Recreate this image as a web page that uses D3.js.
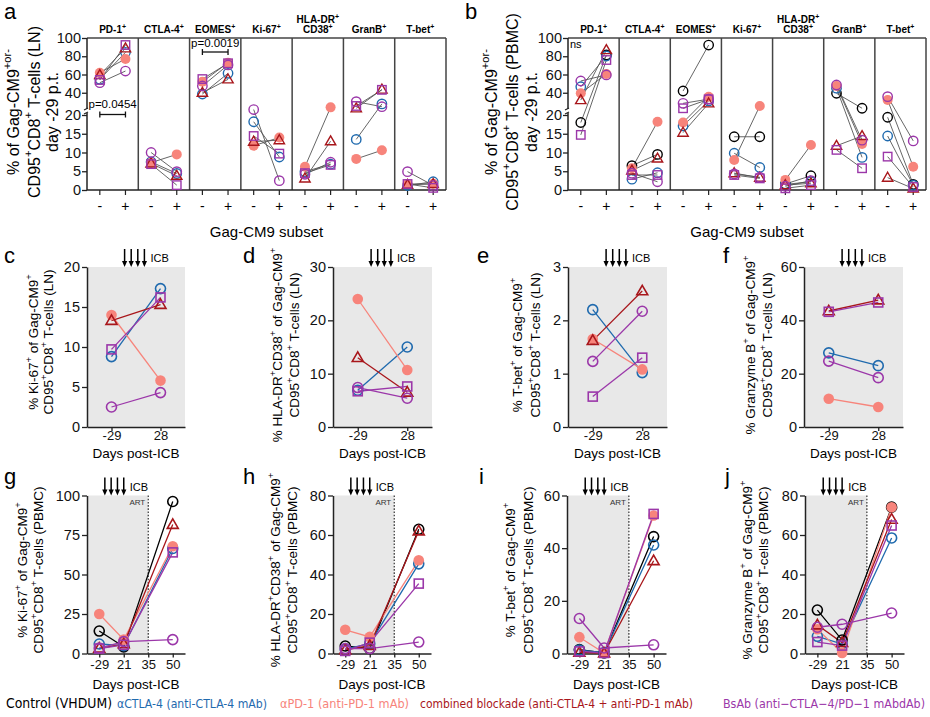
<!DOCTYPE html>
<html><head><meta charset="utf-8">
<script src="https://cdn.jsdelivr.net/npm/d3@7"></script>
<style>body{margin:0;background:#fff}svg{font-family:"Liberation Sans",Arial,sans-serif}</style>
</head><body><svg id="chart" width="930" height="717"></svg>
<script>
// ---------------- DATA ----------------
const markers = ["PD-1^{+}","CTLA-4^{+}","EOMES^{+}","Ki-67^{+}","HLA-DR^{+}|CD38^{+}","GranB^{+}","T-bet^{+}"];
const subsets = ["-","+"];
const upperTicksAB = [40,60,80,100];
const lowerTicksAB = [0,5,10,15,20];
const animalsLN = ["aCTLA4","aPD1","combo","bsabSq","bsabCi"];
const animalsPBMC = ["control","aCTLA4","aPD1","combo","bsabSq","bsabCi"];
// panel a (LN, day -29): rows = animalsLN, columns = markers
const aNeg = [
  [54.7, 7.5, 38.6, 18.2, 4.9, 13.5, 1.2],
  [62.0, 7.3, 52.0, 11.8, 6.2, 8.3, 1.6],
  [59.5, 7.1, 40.0, 12.9, 3.1, 23.0, 1.4],
  [54.0, 6.9, 55.0, 14.4, 4.5, 25.5, 1.6],
  [51.0, 10.0, 47.4, 21.6, 4.2, 30.2, 4.9]
];
const aPos = [
  [84.3, 4.4, 61.3, 8.8, 6.9, 27.8, 2.2],
  [77.0, 9.5, 73.0, 14.0, 24.0, 10.6, 1.65],
  [88.7, 3.8, 54.7, 13.3, 13.0, 43.5, 1.62],
  [92.3, 1.3, 72.3, 9.7, 6.7, 43.2, 0.57],
  [63.8, 4.9, 70.5, 2.5, 7.4, 24.7, 1.23]
];
// panel b (PBMC, day -29): rows = animalsPBMC
const bNeg = [
  [18.0, 6.5, 41.9, 14.2, 1.6, 39.4, 19.4],
  [46.6, 2.9, 17.1, 9.8, 1.5, 45.0, 14.4],
  [39.4, 5.8, 18.0, 8.0, 2.7, 47.4, 32.0],
  [32.0, 5.2, 15.3, 4.5, 1.3, 11.8, 3.3],
  [14.7, 4.0, 23.0, 4.0, 0.45, 10.7, 8.9],
  [52.9, 4.5, 28.4, 4.3, 1.0, 48.5, 35.7]
];
const bPos = [
  [81.4, 9.5, 92.3, 14.2, 3.8, 23.0, 1.5],
  [80.3, 4.6, 31.0, 6.0, 2.2, 8.7, 1.3],
  [60.5, 18.2, 35.7, 25.5, 12.0, 12.3, 6.2],
  [86.8, 8.4, 28.4, 3.3, 1.8, 14.4, 0.4],
  [75.9, 4.0, 32.8, 3.1, 1.3, 5.8, 0.8],
  [59.5, 2.2, 33.0, 3.4, 2.5, 13.3, 13.1]
];
const daysLN = ["-29","28"];
const daysPBMC = ["-29","21","35","50"];
const daysPBMCdata = ["-29","21","50"];
// panels c-f (LN): rows = animalsLN, [day -29, day 28]
const cKi67LN  = [[8.8,17.3],[14.0,5.8],[13.3,15.3],[9.7,16.2],[2.5,4.3]];
const dHLALN   = [[6.9,15.0],[24.0,10.7],[13.0,6.5],[6.7,7.6],[7.4,5.4]];
const eTbetLN  = [[2.2,1.02],[1.65,1.08],[1.62,2.55],[0.57,1.3],[1.23,2.17]];
const fGranBLN = [[27.8,23.0],[10.6,7.5],[43.5,47.6],[43.2,46.7],[24.7,18.5]];
// panels g-j (PBMC): rows = animalsPBMC, [day -29, day 21, day 50]
const gKi67PBMC  = [[14.2,4.2,96.2],[6.0,5.0,66.5],[25.0,8.8,67.9],[3.3,6.0,81.6],[3.1,5.5,64.0],[3.4,7.5,8.8]];
const hHLAPBMC   = [[3.8,2.5,62.9],[2.2,5.0,45.4],[12.0,8.4,47.2],[1.8,4.0,62.0],[1.3,5.5,35.4],[2.5,2.5,5.8]];
const iTbetPBMC  = [[1.5,0.2,44.4],[1.3,0.3,41.2],[6.2,0.2,52.4],[0.4,0.1,35.2],[0.8,0.2,53.0],[13.3,2.1,3.3]];
const jGranBPBMC = [[22.0,6.8,74.1],[8.7,4.8,58.5],[12.3,0.3,74.0],[14.4,5.5,67.9],[5.8,4.0,64.8],[13.3,14.8,20.5]];
const legendLabels = ["Control (VHDUM)","\u03b1CTLA-4 (anti-CTLA-4 mAb)","\u03b1PD-1 (anti-PD-1 mAb)","combined blockade (anti-CTLA-4 + anti-PD-1 mAb)","BsAb (anti\u2212CTLA\u22124/PD\u22121 mAbdAb)"];

// ---------------- STYLE ----------------
const COL = {black:"#000000", blue:"#1f6aae", salmon:"#f7847b", red:"#a8161b", purple:"#9b37a9"};
const ST = {
  control:{c:COL.black, s:"circle"}, aCTLA4:{c:COL.blue, s:"circle"}, aPD1:{c:COL.salmon, s:"dot"},
  combo:{c:COL.red, s:"triangle"}, bsabSq:{c:COL.purple, s:"square"}, bsabCi:{c:COL.purple, s:"circle"}
};
const legendColors = [COL.black, COL.blue, COL.salmon, COL.red, COL.purple];
const svg = d3.select("#chart");
const AX = "#222";
const fmt = d3.format("~g");

function rich(t, str, fs) {
  const parts = str.split(/(\^\{[^}]*\})/).filter(p => p.length);
  let up = false;
  parts.forEach(p => {
    if (p.startsWith("^{")) {
      t.append("tspan").attr("dy", -fs*0.38).attr("font-size", fs*0.7).text(p.slice(2,-1));
      up = true;
    } else {
      const ts = t.append("tspan").text(p);
      if (up) { ts.attr("dy", fs*0.38); up = false; }
    }
  });
}
function marker(g, key, x, y, r, sw) {
  const st = ST[key];
  if (st.s === "circle") g.append("circle").attr("cx",x).attr("cy",y).attr("r",r).attr("fill","none").attr("stroke",st.c).attr("stroke-width",sw);
  else if (st.s === "dot") g.append("circle").attr("cx",x).attr("cy",y).attr("r",r+0.3).attr("fill",st.c);
  else if (st.s === "square") g.append("rect").attr("x",x-r*0.9).attr("y",y-r*0.9).attr("width",r*1.8).attr("height",r*1.8).attr("fill","none").attr("stroke",st.c).attr("stroke-width",sw);
  else if (st.s === "triangle") {
    const h = r*1.9, w = r*2.2;
    g.append("path").attr("d",`M${x},${y-h*0.6}L${x+w/2},${y+h*0.4}L${x-w/2},${y+h*0.4}Z`).attr("fill","none").attr("stroke",st.c).attr("stroke-width",sw).attr("stroke-linejoin","miter");
  }
}
function letter(x, y, l) {
  svg.append("text").attr("x",x).attr("y",y).attr("font-size",22).text(l);
}
function rotTitle(lines, xs, yc, fs) {
  lines.forEach((ln,i) => {
    const t = svg.append("text").attr("transform",`translate(${xs[i]},${yc}) rotate(-90)`)
      .attr("text-anchor","middle").attr("dominant-baseline","central").attr("font-size",fs);
    rich(t, ln, fs);
  });
}

// ---------------- STRIP PANELS (a, b) ----------------
function strip(cfg) {
  const {x0, x1, top, bottom, neg, pos, animals} = cfg;
  const g = svg.append("g");
  const band = d3.scaleBand().domain(markers).range([x0, x1]);
  const sub = d3.scalePoint().domain(subsets).range([0, band.bandwidth()]).padding(0.5);
  const up = d3.scaleLinear().domain([20,100]).range([111, top]);
  const lo = d3.scaleLinear().domain([0,20]).range([bottom, 115]);
  const y = v => v > 20 ? up(v) : lo(v);
  // frame
  g.append("line").attr("x1",x0).attr("x2",x1).attr("y1",top).attr("y2",top).attr("stroke","#444").attr("stroke-width",1.5);
  markers.forEach((m,i) => {
    if (i>0) g.append("line").attr("x1",band(m)).attr("x2",band(m)).attr("y1",top).attr("y2",bottom).attr("stroke","#444").attr("stroke-width",1.5);
  });
  g.append("line").attr("x1",x1).attr("x2",x1).attr("y1",top).attr("y2",bottom).attr("stroke","#444").attr("stroke-width",1.5);
  g.append("line").attr("x1",x0).attr("x2",x1).attr("y1",bottom).attr("y2",bottom).attr("stroke",AX).attr("stroke-width",1.5);
  // left axis (broken)
  g.append("line").attr("x1",x0).attr("x2",x0).attr("y1",top).attr("y2",109).attr("stroke",AX).attr("stroke-width",1.5);
  g.append("line").attr("x1",x0).attr("x2",x0).attr("y1",113).attr("y2",bottom).attr("stroke",AX).attr("stroke-width",1.5);
  g.append("line").attr("x1",x0-3).attr("x2",x0+1).attr("y1",110).attr("y2",108).attr("stroke",AX).attr("stroke-width",1.2);
  g.append("line").attr("x1",x0-3).attr("x2",x0+1).attr("y1",114).attr("y2",112).attr("stroke",AX).attr("stroke-width",1.2);
  const ax1 = g.append("g").attr("transform",`translate(${x0},0)`).call(d3.axisLeft(up).tickValues(upperTicksAB).tickFormat(fmt).tickSize(5).tickSizeOuter(0));
  const ax2 = g.append("g").attr("transform",`translate(${x0},0)`).call(d3.axisLeft(lo).tickValues(lowerTicksAB).tickFormat(fmt).tickSize(5).tickSizeOuter(0));
  [ax1, ax2].forEach(a => {
    a.select(".domain").remove();
    a.selectAll("line").attr("stroke",AX).attr("stroke-width",1.3);
    a.selectAll("text").attr("font-size",14.5).attr("font-family","Liberation Sans, Arial, sans-serif").attr("fill","#111").attr("x",-6);
  });
  // headers, x labels, ticks
  markers.forEach(m => {
    const cx = band(m) + band.bandwidth()/2;
    const lines = m.split("|");
    lines.forEach((ln, i) => {
      const t = g.append("text").attr("x",cx).attr("y", top - 5 - (lines.length-1-i)*10.5).attr("text-anchor","middle")
        .attr("font-size",10).attr("font-weight","bold");
      rich(t, ln, 10);
    });
    subsets.forEach(s => {
      const xx = band(m) + sub(s);
      g.append("line").attr("x1",xx).attr("x2",xx).attr("y1",bottom).attr("y2",bottom+5).attr("stroke",AX).attr("stroke-width",1.2);
      g.append("text").attr("x",xx).attr("y",bottom+21).attr("text-anchor","middle").attr("font-size",14).text(s);
    });
  });
  g.append("text").attr("x",(x0+x1)/2).attr("y",bottom+47).attr("text-anchor","middle").attr("font-size",15).text("Gag-CM9 subset");
  // connecting lines
  animals.forEach((a, ai) => {
    markers.forEach((m, mi) => {
      g.append("line").attr("x1",band(m)+sub("-")).attr("y1",y(neg[ai][mi]))
        .attr("x2",band(m)+sub("+")).attr("y2",y(pos[ai][mi])).attr("stroke","#555").attr("stroke-width",0.9);
    });
  });
  animals.forEach((a, ai) => {
    markers.forEach((m, mi) => {
      marker(g, a, band(m)+sub("-"), y(neg[ai][mi]), 4.7, 1.4);
      marker(g, a, band(m)+sub("+"), y(pos[ai][mi]), 4.7, 1.4);
    });
  });
  return {band, sub, y};
}

const A = strip({x0:87, x1:446, top:38, bottom:190, neg:aNeg, pos:aPos, animals:animalsLN});
const B = strip({x0:568, x1:926, top:38, bottom:190, neg:bNeg, pos:bPos, animals:animalsPBMC});

// p-values
function bracket(xa, xb, yy, label, ty) {
  svg.append("line").attr("x1",xa).attr("x2",xb).attr("y1",yy).attr("y2",yy).attr("stroke","#111").attr("stroke-width",1.3);
  [xa,xb].forEach(xx => svg.append("line").attr("x1",xx).attr("x2",xx).attr("y1",yy-3).attr("y2",yy+3).attr("stroke","#111").attr("stroke-width",1.3));
  svg.append("text").attr("x",(xa+xb)/2).attr("y",ty).attr("text-anchor","middle").attr("font-size",11.5).text(label);
}
bracket(A.band(markers[0])+A.sub("-"), A.band(markers[0])+A.sub("+"), 114.5, "p=0.0454", 108);
bracket(A.band(markers[2])+A.sub("-"), A.band(markers[2])+A.sub("+"), 52, "p=0.0019", 46.5);
svg.append("text").attr("x",570).attr("y",48).attr("font-size",11).text("ns");

letter(4, 19, "a");
letter(465, 19, "b");
rotTitle(["% of Gag-CM9^{+or-}","CD95^{+}CD8^{+} T-cells (LN)","day -29 p.t."], [13, 34, 52], 112, 16);
rotTitle(["% of Gag-CM9^{+or-}","CD95^{+}CD8^{+} T-cells (PBMC)","day -29 p.t."], [491, 512, 531], 112, 16);

// ---------------- TIME PANELS (c-j) ----------------
function timePanel(cfg) {
  const {x0, x1, top, bottom, yMax, yTicks, cats, dataCats, vals, animals, art, tickY, titleY} = cfg;
  const g = svg.append("g");
  const x = d3.scalePoint().domain(cats).range([x0, x1]).padding(0.5);
  const y = d3.scaleLinear().domain([0, yMax]).range([bottom, top]);
  const grayEnd = art ? x("35") : x1;
  g.append("rect").attr("x",x0).attr("y",top).attr("width",grayEnd-x0).attr("height",bottom-top).attr("fill","#e8e8e8");
  if (art) {
    g.append("line").attr("x1",x("35")).attr("x2",x("35")).attr("y1",top).attr("y2",bottom)
      .attr("stroke","#333").attr("stroke-width",1.2).attr("stroke-dasharray","1.6,1.6");
    g.append("text").attr("x",x("35")-3).attr("y",top+9).attr("text-anchor","end").attr("font-size",8).attr("fill","#333").text("ART");
  }
  const ay = g.append("g").attr("transform",`translate(${x0},0)`).call(d3.axisLeft(y).tickValues(yTicks).tickFormat(fmt).tickSize(5).tickSizeOuter(0));
  const ax = g.append("g").attr("transform",`translate(0,${bottom})`).call(d3.axisBottom(x).tickSize(4).tickSizeOuter(0));
  [ay, ax].forEach(a => {
    a.select(".domain").attr("stroke",AX).attr("stroke-width",1.5);
    a.selectAll(".tick line").attr("stroke",AX).attr("stroke-width",1.3);
    a.selectAll("text").attr("font-family","Liberation Sans, Arial, sans-serif").attr("fill","#111");
  });
  ay.selectAll("text").attr("font-size",14.5).attr("x",-7);
  ax.selectAll("text").attr("font-size",13).attr("y",tickY);
  g.append("text").attr("x",(x0+x1)/2).attr("y",bottom+titleY).attr("text-anchor","middle").attr("font-size",13.5).text("Days post-ICB");
  // arrows (ICB)
  const arrowX = art ? d3.range(4).map(i => x("21") - (3-i)*6.3) : d3.range(4).map(i => (x0+x1)/2 - 1.5 + (i-1.5)*6.6);
  arrowX.forEach(ax0 => {
    g.append("line").attr("x1",ax0).attr("x2",ax0).attr("y1",top-18).attr("y2",top-5).attr("stroke","#000").attr("stroke-width",1.5);
    g.append("path").attr("d",`M${ax0-2.6},${top-6}L${ax0+2.6},${top-6}L${ax0},${top}Z`).attr("fill","#000");
  });
  g.append("text").attr("x",arrowX[3]+6).attr("y",top-5).attr("font-size",11).text("ICB");
  // lines and markers
  const line = d3.line().x(d => x(d[0])).y(d => y(d[1]));
  animals.forEach((a, ai) => {
    const pts = dataCats.map((c, ci) => [c, vals[ai][ci]]);
    g.append("path").attr("d", line(pts)).attr("fill","none").attr("stroke",ST[a].c).attr("stroke-width",1.3);
  });
  animals.forEach((a, ai) => {
    dataCats.forEach((c, ci) => marker(g, a, x(c), y(vals[ai][ci]), 5, 1.6));
  });
}

const ln2 = "CD95^{+}CD8^{+} T-cells (LN)";
const pb2 = "CD95^{+}CD8^{+} T-cells (PBMC)";
const row2 = {top:267, bottom:427, cats:daysLN, dataCats:daysLN, animals:animalsLN, art:false, tickY:3.8, titleY:31};
timePanel({...row2, x0:87, x1:185, yMax:20, yTicks:[0,5,10,15,20], vals:cKi67LN});
timePanel({...row2, x0:333, x1:432, yMax:30, yTicks:[0,10,20,30], vals:dHLALN});
timePanel({...row2, x0:568, x1:667, yMax:3, yTicks:[0,1,2,3], vals:eTbetLN});
timePanel({...row2, x0:804, x1:903, yMax:60, yTicks:[0,20,40,60], vals:fGranBLN});
const row3 = {top:495.5, bottom:653.5, cats:daysPBMC, dataCats:daysPBMCdata, animals:animalsPBMC, art:true, tickY:6.6, titleY:35};
timePanel({...row3, x0:87, x1:185, yMax:100, yTicks:[0,25,50,75,100], vals:gKi67PBMC});
timePanel({...row3, x0:333, x1:431, yMax:80, yTicks:[0,20,40,60,80], vals:hHLAPBMC});
timePanel({...row3, x0:567, x1:666, yMax:60, yTicks:[0,20,40,60], vals:iTbetPBMC});
timePanel({...row3, x0:805, x1:904, yMax:80, yTicks:[0,20,40,60,80], vals:jGranBPBMC});

rotTitle(["% Ki-67^{+} of Gag-CM9^{+}", ln2], [33, 48], 342, 13.5);
rotTitle(["% HLA-DR^{+}CD38^{+} of Gag-CM9^{+}", ln2], [277, 294], 345, 13.5);
rotTitle(["% T-bet^{+} of Gag-CM9^{+}", ln2], [517, 535], 345, 13.5);
rotTitle(["% Granzyme B^{+} of Gag-CM9^{+}", ln2], [750, 767], 345, 13.5);
rotTitle(["% Ki-67^{+} of Gag-CM9^{+}", pb2], [22, 38], 570, 13.5);
rotTitle(["% HLA-DR^{+}CD38^{+} of Gag-CM9^{+}", pb2], [275, 292], 570, 13.5);
rotTitle(["% T-bet^{+} of Gag-CM9^{+}", pb2], [510, 528], 570, 13.5);
rotTitle(["% Granzyme B^{+} of Gag-CM9^{+}", pb2], [747, 763], 570, 13.5);

letter(4, 263, "c"); letter(243, 263, "d"); letter(477, 263, "e"); letter(723, 263, "f");
letter(4, 484, "g"); letter(243, 484, "h"); letter(479, 484, "i"); letter(725, 484, "j");

// ---------------- LEGEND ----------------
const legX = [6, 117, 280, 420, 723];
const legW = [106, 150, 129, 273, 202];
legendLabels.forEach((l, i) => {
  const t = svg.append("text").attr("x", legX[i]).attr("y", 708)
    .attr("font-family", "'Liberation Sans Narrow','Arial Narrow','DejaVu Sans Condensed','Liberation Sans',sans-serif")
    .attr("font-size", 14).attr("fill", legendColors[i]).text(l);
  const nat = t.node().getComputedTextLength();
  if (nat > legW[i]) t.attr("font-size", 14 * legW[i] / nat);
  t.attr("textLength", legW[i]).attr("lengthAdjust", "spacingAndGlyphs");
});
</script></body></html>
